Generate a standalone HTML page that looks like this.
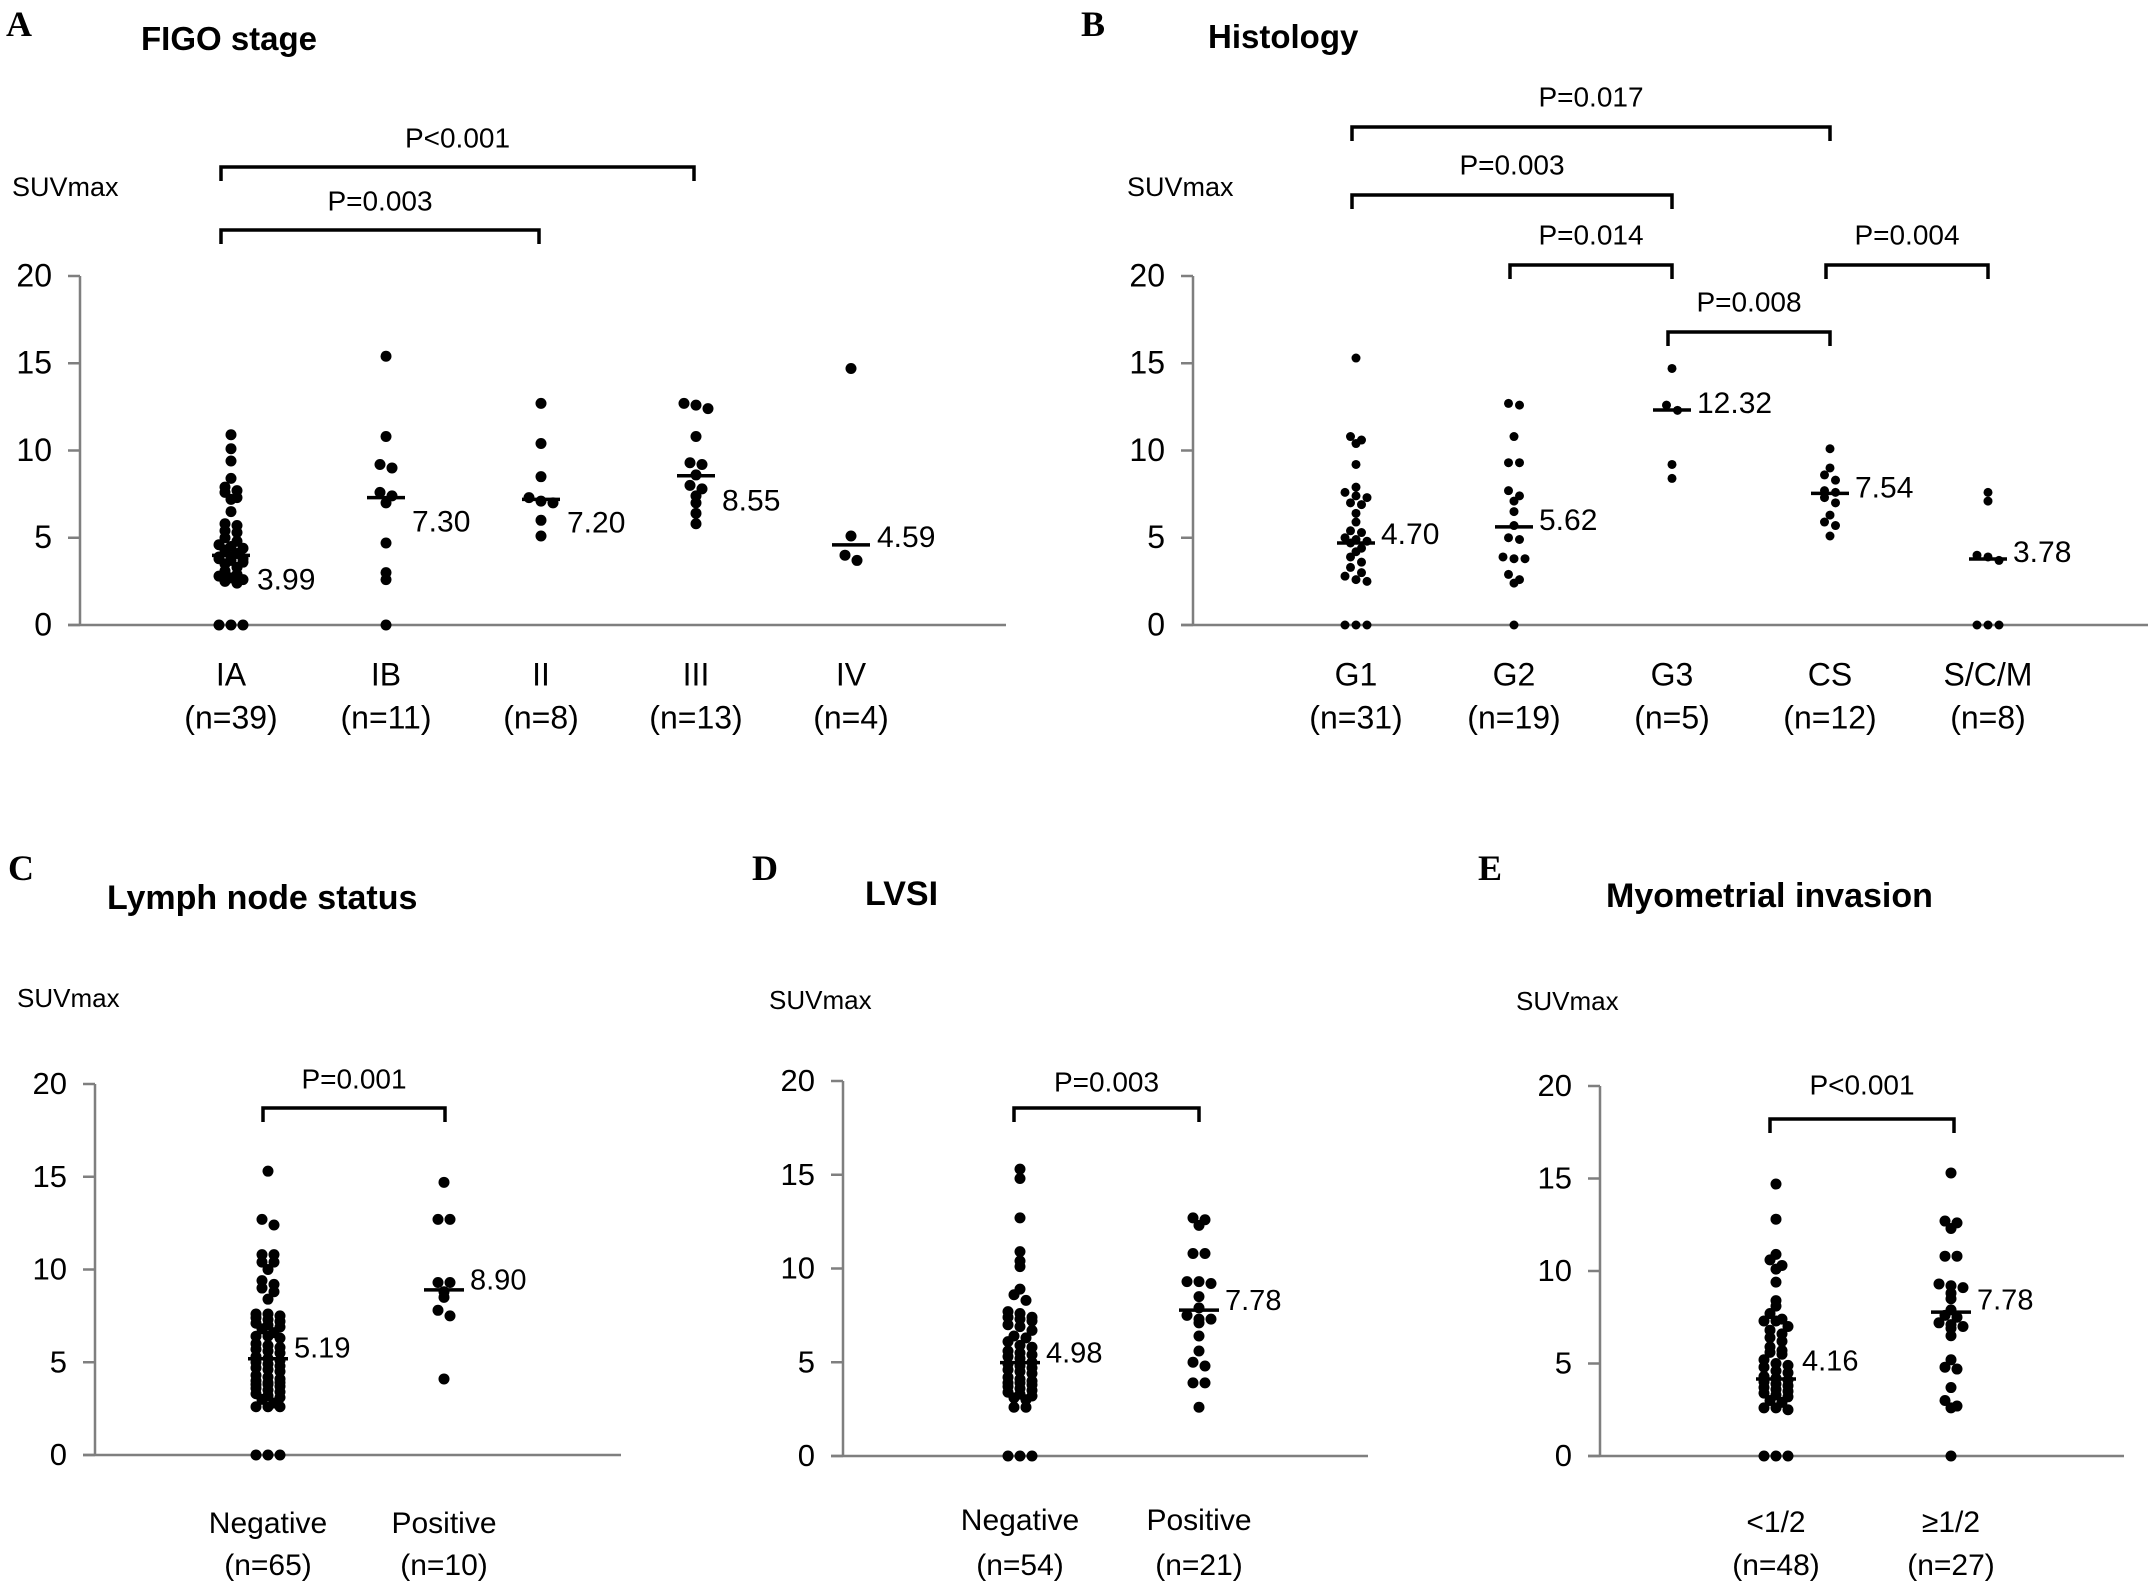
<!DOCTYPE html>
<html><head><meta charset="utf-8">
<style>
html,body{margin:0;padding:0;background:#fff;}
svg{display:block;}
.nar{font-family:"Liberation Sans Narrow","Liberation Sans",sans-serif;}
.reg{font-family:"Liberation Sans",sans-serif;}
</style></head>
<body>
<svg id="fig" width="2150" height="1592" viewBox="0 0 2150 1592" xmlns="http://www.w3.org/2000/svg"></svg>
<script>
// ---------- Panel A: FIGO stage ----------
const catsA = ["IA","IB","II","III","IV"];
const nA = ["(n=39)","(n=11)","(n=8)","(n=13)","(n=4)"];
const valsA_IA = [10.9,10.1,9.4,8.4,7.9,7.7,7.6,7.3,7.2,6.5,5.8,5.7,5.4,5.3,5.0,4.8,4.6,4.5,4.4,4.3,4.1,3.9,3.9,3.8,3.8,3.7,3.6,3.5,3.3,3.1,2.9,2.8,2.7,2.6,2.5,2.4,0,0,0];
const valsA_IB = [15.4,10.8,9.2,9.0,7.6,7.4,7.0,4.7,3.0,2.6,0];
const valsA_II = [12.7,10.4,8.5,7.3,7.1,7.0,6.0,5.1];
const valsA_III = [12.7,12.6,12.4,10.8,9.3,9.2,8.6,8.0,7.8,7.4,7.0,6.4,5.8];
const valsA_IV = [14.7,5.1,4.0,3.7];
const mediansA = [3.99,7.30,7.20,8.55,4.59];
const bracketsA = [[0,3,"P<0.001"],[0,2,"P=0.003"]];

// ---------- Panel B: Histology ----------
const catsB = ["G1","G2","G3","CS","S/C/M"];
const nB = ["(n=31)","(n=19)","(n=5)","(n=12)","(n=8)"];
const valsB_G1 = [15.3,10.8,10.6,10.4,9.2,7.9,7.6,7.4,7.3,7.0,6.9,6.4,5.9,5.4,5.3,5.0,4.9,4.8,4.7,4.4,4.2,3.9,3.6,3.3,3.0,2.8,2.6,2.5,0,0,0];
const valsB_G2 = [12.7,12.6,10.8,9.3,9.3,7.7,7.4,7.1,6.5,5.7,5.0,4.9,3.9,3.8,3.8,2.9,2.6,2.4,0];
const valsB_G3 = [14.7,12.6,12.3,9.2,8.4];
const valsB_CS = [10.1,9.0,8.6,8.3,7.7,7.6,7.3,7.0,6.3,5.9,5.7,5.1];
const valsB_SCM = [7.6,7.1,4.0,3.9,3.7,0,0,0];
const mediansB = [4.70,5.62,12.32,7.54,3.78];
const bracketsB = [[0,3,"P=0.017"],[0,2,"P=0.003"],[1,2,"P=0.014"],[3,4,"P=0.004"],[2,3,"P=0.008"]];

// ---------- Panel C: Lymph node status ----------
const catsC = ["Negative","Positive"];
const nC = ["(n=65)","(n=10)"];
const valsC_Neg = [15.3,12.7,12.4,10.8,10.8,10.4,10.4,10.0,9.4,9.2,9.0,8.8,8.4,7.6,7.6,7.5,7.4,7.3,7.2,7.1,7.0,6.9,6.8,6.6,6.4,6.4,6.3,6.0,5.9,5.8,5.7,5.6,5.5,5.3,5.2,5.1,5.0,4.9,4.8,4.7,4.6,4.5,4.3,4.2,4.1,4.0,3.9,3.9,3.8,3.8,3.7,3.6,3.5,3.4,3.3,3.2,3.1,3.0,2.8,2.6,2.6,2.6,0,0,0];
const valsC_Pos = [14.7,12.7,12.7,9.3,9.3,8.8,8.5,7.8,7.5,4.1];
const mediansC = [5.19,8.90];
const bracketsC = [[0,1,"P=0.001"]];

// ---------- Panel D: LVSI ----------
const catsD = ["Negative","Positive"];
const nD = ["(n=54)","(n=21)"];
const valsD_Neg = [15.3,14.8,12.7,10.9,10.4,10.1,8.9,8.6,8.3,7.7,7.6,7.4,7.4,7.3,7.2,7.0,6.9,6.7,6.4,6.3,6.1,5.9,5.8,5.6,5.5,5.4,5.3,5.2,5.0,4.9,4.8,4.7,4.6,4.5,4.4,4.2,4.1,4.0,3.9,3.9,3.8,3.7,3.6,3.5,3.4,3.3,3.2,3.1,3.0,2.6,2.6,0,0,0];
const valsD_Pos = [12.7,12.6,12.3,10.8,10.8,9.3,9.3,9.2,8.5,7.9,7.5,7.3,7.3,7.1,6.4,5.6,5.0,4.8,3.9,3.9,2.6];
const mediansD = [4.98,7.78];
const bracketsD = [[0,1,"P=0.003"]];

// ---------- Panel E: Myometrial invasion ----------
const catsE = ["<1/2","\u22651/2"];
const nE = ["(n=48)","(n=27)"];
const valsE_Lt = [14.7,12.8,10.9,10.6,10.3,10.1,9.4,8.4,8.1,7.7,7.4,7.3,7.3,7.0,6.8,6.6,6.4,6.2,5.9,5.7,5.6,5.5,5.2,5.0,4.9,4.8,4.6,4.5,4.3,4.2,4.1,4.0,3.9,3.8,3.7,3.6,3.5,3.4,3.3,3.2,3.0,2.9,2.6,2.6,2.5,0,0,0];
const valsE_Ge = [15.3,12.7,12.6,12.3,10.8,10.8,9.3,9.2,9.1,8.8,8.5,7.9,7.6,7.5,7.2,7.1,7.0,6.9,6.5,5.2,4.8,4.7,3.7,3.0,2.7,2.6,0];
const mediansE = [4.16,7.78];
const bracketsE = [[0,1,"P<0.001"]];

const yTicks = [0,5,10,15,20];

const NS = "http://www.w3.org/2000/svg";
const svg = document.getElementById("fig");
function mk(tag, attrs, parent){
  const e = document.createElementNS(NS, tag);
  for (const k in attrs) e.setAttribute(k, attrs[k]);
  (parent||svg).appendChild(e);
  return e;
}
function txt(str, attrs, parent){ const t = mk("text", attrs, parent); t.textContent = str; return t; }

function panel(c){
  const g = mk("g", {});
  
  
  const ys = v => c.y0 - v*(c.y0 - c.y20)/20;
  const xs = i => c.catStart + i*c.catStep;
  const cls = c.cls;

  const letter = txt(c.letter, {x:c.letterX, y:c.letterY, "font-family":"Liberation Serif, serif", "font-weight":"bold", "font-size":36, fill:"#000"}, g);
  
  
  const title = txt(c.title, {x:c.titleX, y:c.titleY, "font-family":"Liberation Sans, sans-serif", "font-weight":"bold", "font-size":c.titleSize, fill:"#000"}, g);
  
  
  const yl = txt("SUVmax", {x:c.suvX, y:c.suvY, class:cls, "font-size":c.suvSize, fill:"#000", "dominant-baseline":"middle"}, g);
  
  

  const ya = mk("line", {x1:c.axisX, y1:c.y20, x2:c.axisX, y2:c.y0, stroke:"#7f7f7f", "stroke-width":2.5}, g);
  
  
  const xa = mk("line", {x1:c.axisX-12, y1:c.y0, x2:c.xEnd, y2:c.y0, stroke:"#7f7f7f", "stroke-width":2.5}, g);
  
  
  yTicks.forEach(v => {
    const tk = mk("line", {x1:c.axisX-12, y1:ys(v), x2:c.axisX, y2:ys(v), stroke:"#7f7f7f", "stroke-width":2.5}, g);
    
    
    const tl = txt(String(v), {x:c.axisX-28, y:ys(v)+2, class:cls, "font-size":c.tickSize, "text-anchor":"end", "dominant-baseline":"middle", fill:"#000"}, g);
    
    
  });

  c.cats.forEach((cat, i) => {
    const a = txt(cat, {x:xs(i), y:c.catY1, class:cls, "font-size":c.catSize, "text-anchor":"middle", "dominant-baseline":"middle", fill:"#000"}, g);
    
    
    const b = txt(c.ns[i], {x:xs(i), y:c.catY2, class:cls, "font-size":c.catSize, "text-anchor":"middle", "dominant-baseline":"middle", fill:"#000"}, g);
    
    

    const vals = c.vals[i].slice().sort((p,q)=>q-p);
    const bins = [];
    vals.forEach(v => {
      const last = bins[bins.length-1];
      if (last && Math.abs(last[0]-v) < c.binTol && last.length < 3) last.push(v); else bins.push([v]);
    });
    bins.forEach(bin => {
      const k = bin.length;
      bin.forEach((v, j) => {
        const dx = (j - (k-1)/2) * c.dotGap;
        const d = mk("circle", {cx:xs(i)+dx, cy:ys(v), r:c.r, fill:"#000"}, g);
        
        
      });
    });

    const m = c.medians[i];
    const ml = mk("line", {x1:xs(i)-c.medHalf, y1:ys(m), x2:xs(i)+c.medHalf, y2:ys(m), stroke:"#000", "stroke-width":3.5}, g);
    
    
    const mt = txt(m.toFixed(2), {x:xs(i)+c.labDx, y:ys(m)+c.labDy[i], class:cls, "font-size":c.valSize, "dominant-baseline":"middle", fill:"#000"}, g);
    
    
  });

  c.brackets.forEach((br, k) => {
    const x1 = xs(br[0]) + c.brOff[0], x2 = xs(br[1]) + c.brOff[1], y = c.brY[k];
    const p = mk("path", {d:`M${x1},${y+14} L${x1},${y} L${x2},${y} L${x2},${y+14}`, fill:"none", stroke:"#000", "stroke-width":3.5}, g);
    
    
    const pt = txt(br[2], {x:(x1+x2)/2, y:y-c.pGap, class:cls, "font-size":c.pSize, "text-anchor":"middle", "dominant-baseline":"middle", fill:"#000"}, g);
    
    
  });
}

panel({name:"panel-a-figo-stage", cls:"nar", letter:"A", letterX:6, letterY:36, title:"FIGO stage", titleX:141, titleY:50, titleSize:33,
  suvX:12, suvY:189, suvSize:27, axisX:80, xEnd:1006, y0:625, y20:276, tickSize:32,
  cats:catsA, ns:nA, vals:[valsA_IA,valsA_IB,valsA_II,valsA_III,valsA_IV], medians:mediansA,
  catStart:231, catStep:155, catY1:677, catY2:720, catSize:32, r:5.5, dotGap:12, binTol:0.3, medHalf:19,
  labDx:26, labDy:[26,26,25,27,-6], valSize:30, brackets:bracketsA, brY:[167,230], brOff:[-10,-2], pGap:27, pSize:28});

panel({name:"panel-b-histology", cls:"nar", letter:"B", letterX:1081, letterY:36, title:"Histology", titleX:1208, titleY:48, titleSize:33,
  suvX:1127, suvY:189, suvSize:27, axisX:1193, xEnd:2148, y0:625, y20:276, tickSize:32,
  cats:catsB, ns:nB, vals:[valsB_G1,valsB_G2,valsB_G3,valsB_CS,valsB_SCM], medians:mediansB,
  catStart:1356, catStep:158, catY1:677, catY2:720, catSize:32, r:4.5, dotGap:11, binTol:0.3, medHalf:19,
  labDx:25, labDy:[-7,-5,-5,-4,-5], valSize:30, brackets:bracketsB, brY:[127,195,265,265,332], brOff:[-4,0], pGap:28, pSize:28});

panel({name:"panel-c-lymph-node", cls:"reg", letter:"C", letterX:8, letterY:880, title:"Lymph node status", titleX:107, titleY:909, titleSize:34,
  suvX:17, suvY:1000, suvSize:26, axisX:95, xEnd:621, y0:1455, y20:1084, tickSize:31,
  cats:catsC, ns:nC, vals:[valsC_Neg,valsC_Pos], medians:mediansC,
  catStart:268, catStep:176, catY1:1525, catY2:1567, catSize:30, r:5.5, dotGap:12, binTol:0.3, medHalf:20,
  labDx:26, labDy:[-9,-8], valSize:29, brackets:bracketsC, brY:[1108], brOff:[-5,1], pGap:27, pSize:28});

panel({name:"panel-d-lvsi", cls:"reg", letter:"D", letterX:752, letterY:880, title:"LVSI", titleX:865, titleY:905, titleSize:34,
  suvX:769, suvY:1002, suvSize:26, axisX:843, xEnd:1368, y0:1456, y20:1081, tickSize:31,
  cats:catsD, ns:nD, vals:[valsD_Neg,valsD_Pos], medians:mediansD,
  catStart:1020, catStep:179, catY1:1522, catY2:1567, catSize:30, r:5.5, dotGap:12, binTol:0.3, medHalf:20,
  labDx:26, labDy:[-8,-8], valSize:29, brackets:bracketsD, brY:[1108], brOff:[-6,0], pGap:24, pSize:28});

panel({name:"panel-e-myometrial-invasion", cls:"reg", letter:"E", letterX:1478, letterY:880, title:"Myometrial invasion", titleX:1606, titleY:907, titleSize:34,
  suvX:1516, suvY:1003, suvSize:26, axisX:1600, xEnd:2124, y0:1456, y20:1086, tickSize:31,
  cats:catsE, ns:nE, vals:[valsE_Lt,valsE_Ge], medians:mediansE,
  catStart:1776, catStep:175, catY1:1524, catY2:1567, catSize:30, r:5.5, dotGap:12, binTol:0.3, medHalf:20,
  labDx:26, labDy:[-16,-10], valSize:29, brackets:bracketsE, brY:[1119], brOff:[-6,3], pGap:32, pSize:28});
</script>
</body></html>
